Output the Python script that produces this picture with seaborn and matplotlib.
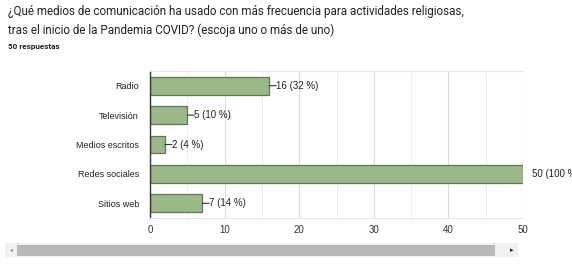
import matplotlib
matplotlib.use("Agg")
import matplotlib.pyplot as plt
import seaborn as sns
import pandas as pd
from matplotlib.patches import Rectangle
from matplotlib.ticker import MultipleLocator

categories = ["Radio", "Televisión", "Medios escritos", "Redes sociales", "Sitios web"]
values = [16, 5, 2, 50, 7]
percents = [32, 10, 4, 100, 14]
title = ("¿Qué medios de comunicación ha usado con más frecuencia para actividades religiosas,\n"
         "tras el inicio de la Pandemia COVID? (escoja uno o más de uno)")
subtitle = "50 respuestas"
xticks = [0, 10, 20, 30, 40, 50]

sns.set_theme(style="white")
plt.rcParams['font.family'] = ['Liberation Sans', 'DejaVu Sans']

W, H = 572, 265
fig = plt.figure(figsize=(W / 100, H / 100), dpi=100)
ax = fig.add_axes([150 / W, 1 - 218 / H, (523 - 150) / W, (218 - 71) / H])

df = pd.DataFrame({"cat": categories, "val": values})
sns.barplot(data=df, x="val", y="cat", orient="h", color="#9ab888",
            edgecolor="#5f7a52", linewidth=0.9, width=0.6, saturation=1, ax=ax)

ax.set_xlim(0, 50)
ax.set_ylim(4.5, -0.5)
ax.set_xticks(xticks)
ax.xaxis.set_minor_locator(MultipleLocator(5))
ax.grid(axis="x", which="major", color="#dcdcdc", linewidth=0.8)
ax.grid(axis="x", which="minor", color="#efefef", linewidth=0.7)
ax.set_axisbelow(True)
ax.set_xlabel("")
ax.set_ylabel("")
ax.tick_params(axis="y", labelsize=6.5, length=0, pad=8, colors="#222222")
ax.tick_params(axis="x", labelsize=7, length=0, pad=5, colors="#333333")
for s in ["top", "bottom"]:
    ax.spines[s].set_color("#e6e6e6")
    ax.spines[s].set_linewidth(0.8)
ax.spines["right"].set_visible(False)
ax.spines["left"].set_color("#333333")
ax.spines["left"].set_linewidth(1.0)

for i, (v, p) in enumerate(zip(values, percents)):
    label = f"{v} ({p} %)"
    if v >= 50:
        ax.annotate(label, xy=(v, i), xytext=(9, 0), textcoords="offset pixels",
                    ha="left", va="center", fontsize=7, color="#222222",
                    annotation_clip=False)
    else:
        ax.annotate("", xy=(v, i), xytext=(7, 0), textcoords="offset pixels",
                    arrowprops=dict(arrowstyle="-", color="#333333", lw=0.8,
                                    shrinkA=0, shrinkB=0))
        ax.annotate(label, xy=(v, i), xytext=(7, 0), textcoords="offset pixels",
                    ha="left", va="center", fontsize=7, color="#222222")

fig.text(8 / W, 1 - 5 / H, title, ha="left", va="top", fontsize=8.4,
         color="#222222", linespacing=1.5, family=["Roboto", "DejaVu Sans"])
fig.text(8 / W, 1 - 47 / H, subtitle, ha="left", va="center", fontsize=5.9,
         color="#222222", fontweight="bold", family=["Roboto", "DejaVu Sans"])

# scrollbar
fig.patches.append(Rectangle((5 / W, 1 - 257 / H), (518 - 5) / W, 14 / H,
                             transform=fig.transFigure, facecolor="#f1f1f1",
                             edgecolor="none"))
fig.patches.append(Rectangle((17 / W, 1 - 255 / H), (494 - 17) / W, 10 / H,
                             transform=fig.transFigure, facecolor="#b9b9b9",
                             edgecolor="#a8a8a8", linewidth=0.5))
fig.text(11 / W, 1 - 250 / H, "◂", ha="center", va="center", fontsize=4,
         color="#777777", family=["DejaVu Sans"])
fig.text(512 / W, 1 - 250 / H, "▸", ha="center", va="center", fontsize=5,
         color="#222222", family=["DejaVu Sans"])

fig.savefig("out.png", dpi=100)
